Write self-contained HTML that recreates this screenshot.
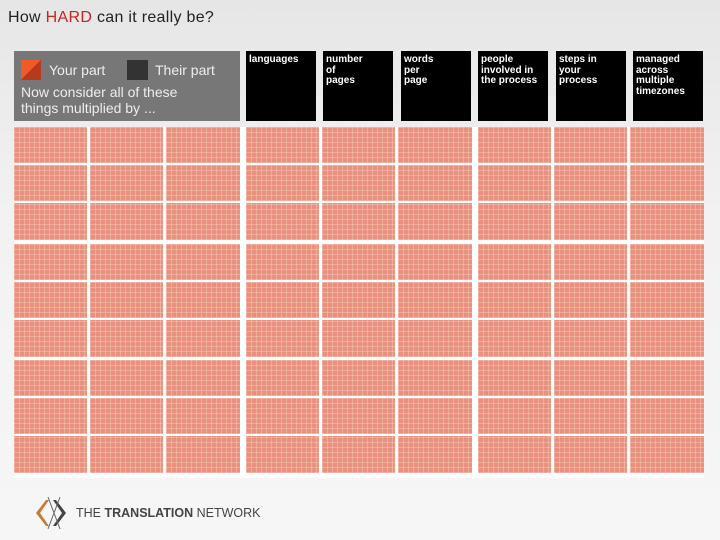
<!DOCTYPE html>
<html><head><meta charset="utf-8"><style>
html,body{margin:0;padding:0}
body{width:720px;height:540px;position:relative;overflow:hidden;background:linear-gradient(180deg,#e6e6e6 0%,#f2f2f2 40%,#f6f6f6 100%);font-family:"Liberation Sans",sans-serif}
.abs{position:absolute}
#title{left:8px;top:9px;font-size:16px;color:#222;letter-spacing:0.3px}
#title span{color:#c8251e}
#legend{left:14px;top:51px;width:226px;height:70px;background:#777;color:#eee}
.hdr{background:#000;color:#fff;font-size:10px;font-weight:bold;line-height:10.5px;padding:4px 3px;box-sizing:border-box;height:70px;top:51px}
#panel{left:14px;top:127px;width:690px;height:351px;background:#fff}
.cell{background-color:#e8917f;background-image:repeating-linear-gradient(90deg,rgba(255,220,205,.35) 0 1px,transparent 1px 5px),repeating-linear-gradient(0deg,rgba(255,220,205,.35) 0 1px,transparent 1px 5px)}
#footer{left:76px;top:506px;font-size:12.5px;color:#444}
</style></head><body>
<div id="title" class="abs">How <span>HARD</span> can it really be?</div>
<div id="legend" class="abs">
  <div class="abs" style="left:7px;top:9px;width:20px;height:20px;background:linear-gradient(135deg,#f05a2a 50%,#b8391c 50%)"></div>
  <div class="abs" style="left:35px;top:11px;font-size:14px">Your part</div>
  <div class="abs" style="left:113px;top:9px;width:21px;height:20px;background:#333"></div>
  <div class="abs" style="left:141px;top:11px;font-size:14px">Their part</div>
  <div class="abs" style="left:7px;top:33px;font-size:14px;line-height:16px">Now consider all of these<br>things multiplied by ...</div>
</div>
<div id="headers"></div>
<div id="panel" class="abs"></div>
<svg class="abs" style="left:34px;top:496px" width="40" height="34">
  <path d="M12 4 L2 17 L12 30 L15 30 L6 17 L15 4Z" fill="#c87a3a"/>
  <path d="M22 4 L32 17 L22 30 L19 30 L28 17 L19 4Z" fill="#444"/>
  <path d="M14 1 L26 33 M26 1 L14 33" stroke="#666" stroke-width="1"/>
</svg>
<div id="footer" class="abs">THE <b>TRANSLATION</b> NETWORK</div>
<script>
const headerLabels=["languages","number<br>of<br>pages","words<br>per<br>page","people<br>involved in<br>the process","steps in<br>your<br>process","managed<br>across<br>multiple<br>timezones"];
const headerX=[246,323,401,478,556,633];
const headerW=[70,70,70,70,70,70];
const hc=document.getElementById('headers');
headerLabels.forEach((t,i)=>{
  const d=document.createElement('div');
  d.className='abs hdr';
  d.style.left=headerX[i]+'px';d.style.width=headerW[i]+'px';
  d.innerHTML=t;
  
  
  hc.appendChild(d);
});
const colX=[0,76,152,232,308,384,464,540,616];
const colW=[73,73,74,73,73,74,73,73,74];
const rowY=[0,38,76,117,155,193,233,271,309];
const rowH=[36,36,37,36,36,37,36,36,37];
const p=document.getElementById('panel');
rowY.forEach((y,r)=>colX.forEach((x,c)=>{
  const d=document.createElement('div');
  d.className='abs cell';
  d.style.left=x+'px';d.style.top=y+'px';d.style.width=colW[c]+'px';d.style.height=rowH[r]+'px';
  
  
  p.appendChild(d);
}));
</script>
</body></html>
